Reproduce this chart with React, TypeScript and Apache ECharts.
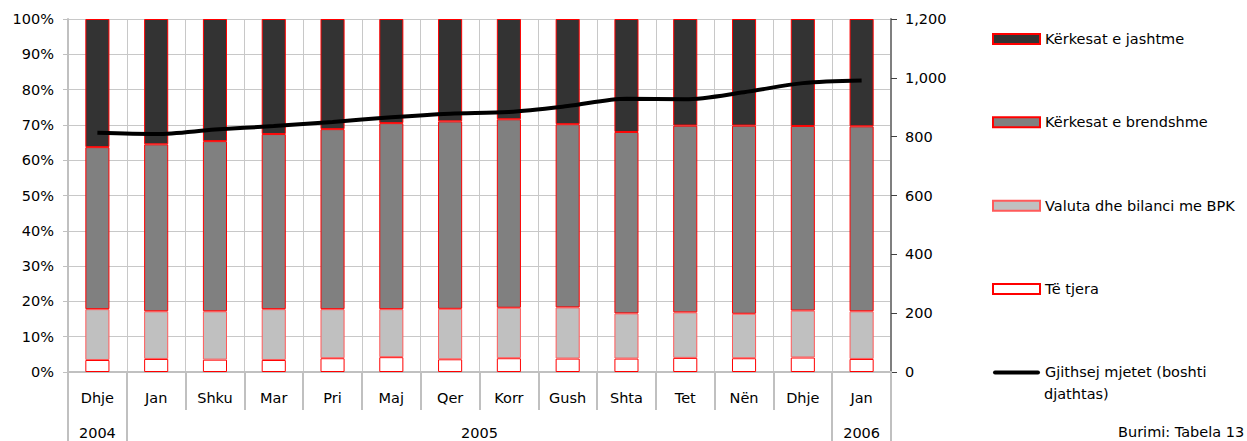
import React, { useEffect, useRef } from "react";
import * as echarts from "echarts";

const months = ["Dhje", "Jan", "Shku", "Mar", "Pri", "Maj", "Qer", "Korr", "Gush", "Shta", "Tet", "Nën", "Dhje", "Jan"];
const yearLabels = ["2004", "2005", "2006"];
const yearLabelPos = [0.5, 7, 13.5];
const yearBoundaries = [0, 1, 13, 14];

const teTjera = [3.4, 3.7, 3.5, 3.4, 3.9, 4.2, 3.6, 3.9, 3.8, 3.8, 4.0, 3.9, 4.1, 3.7];
const valuta = [14.4, 13.5, 13.7, 14.4, 13.9, 13.6, 14.3, 14.3, 14.5, 12.8, 12.9, 12.6, 13.3, 13.5];
const brendshme = [45.9, 47.3, 48.2, 49.6, 51.0, 52.7, 53.1, 53.4, 51.9, 51.4, 52.9, 53.3, 52.3, 52.4];
const jashtme = [36.3, 35.5, 34.6, 32.6, 31.2, 29.5, 29.0, 28.4, 29.8, 32.0, 30.2, 30.2, 30.3, 30.4];
const gjithsej = [813, 809, 824, 836, 850, 866, 878, 884, 904, 929, 927, 951, 982, 991];

const lineName = "Gjithsej mjetet (boshti djathtas)";
const lineLegendLines = ["Gjithsej mjetet (boshti", "djathtas)"];
const sourceText = "Burimi: Tabela 13";

const FONT = "'DejaVu Sans', Verdana, sans-serif";
const FS = 14.5;

export default function App() {
  const ref = useRef<HTMLDivElement>(null);
  useEffect(() => {
    if (!ref.current) return;
    const chart = echarts.init(ref.current, undefined, { renderer: "svg" });
    const barBase = { type: "bar", stack: "a", barWidth: "41%", xAxisIndex: 0, yAxisIndex: 0 };
    chart.setOption({
      animation: false,
      backgroundColor: "#ffffff",
      textStyle: { fontFamily: FONT, fontSize: FS, color: "#000" },
      grid: { left: 68, right: 356, top: 19, bottom: 69, containLabel: false },
      legend: {
        orient: "vertical",
        left: 992,
        top: 30.5,
        padding: 0,
        itemWidth: 47,
        itemHeight: 10,
        itemGap: 66.35,
        textStyle: { fontFamily: FONT, fontSize: FS, color: "#000", lineHeight: 17 },
        formatter: (name: string) => (name === lineName ? lineLegendLines[0] : name),
        data: [
          { name: "Kërkesat e jashtme", icon: "rect" },
          { name: "Kërkesat e brendshme", icon: "rect" },
          { name: "Valuta dhe bilanci me BPK", icon: "rect" },
          { name: "Të tjera", icon: "rect" },
          {
            name: lineName,
            icon: "path://M0,0 L0,0 M2,3 L45,3 A2,2 0 0 1 45,7 L2,7 A2,2 0 0 1 2,3 Z M47,10 L47,10",
            itemStyle: { color: "#000000", borderWidth: 0 },
          },
        ],
      },
      xAxis: [
        {
          type: "category",
          data: months,
          boundaryGap: true,
          axisLine: { show: true, lineStyle: { color: "#c0c0c0", width: 2 } },
          axisTick: { show: true, interval: 0, length: 38, lineStyle: { color: "#c0c0c0", width: 2 } },
          axisLabel: { interval: 0, margin: 18, fontFamily: FONT, fontSize: FS, color: "#000" },
          splitLine: { show: true, interval: 0, lineStyle: { color: "#c8c8c8", width: 1 } },
        },
        {
          type: "value",
          min: 0,
          max: 14,
          position: "bottom",
          axisLine: { show: false },
          splitLine: { show: false },
          axisTick: { show: true, customValues: yearBoundaries, length: 69, lineStyle: { color: "#c0c0c0", width: 2 } },
          axisLabel: {
            show: true,
            customValues: yearLabelPos,
            margin: 53,
            fontFamily: FONT,
            fontSize: FS,
            color: "#000",
            formatter: (v: number) => yearLabels[yearLabelPos.indexOf(v)] ?? "",
          },
        },
      ],
      yAxis: [
        {
          type: "value",
          min: 0,
          max: 100,
          interval: 10,
          axisLine: { show: true, lineStyle: { color: "#c0c0c0", width: 2 } },
          axisTick: { show: true, length: 5, lineStyle: { color: "#c0c0c0" } },
          axisLabel: { formatter: "{value}%", margin: 14, fontFamily: FONT, fontSize: FS, color: "#000" },
          splitLine: { show: true, lineStyle: { color: "#c8c8c8", width: 1 } },
        },
        {
          type: "value",
          min: 0,
          max: 1200,
          interval: 200,
          position: "right",
          axisLine: { show: true, lineStyle: { color: "#7f7f7f", width: 2 } },
          axisTick: { show: true, length: 6, lineStyle: { color: "#404040" } },
          axisLabel: {
            margin: 14,
            fontFamily: FONT,
            fontSize: FS,
            color: "#000",
            formatter: (v: number) => v.toLocaleString("en-US"),
          },
          splitLine: { show: false },
        },
      ],
      series: [
        { ...barBase, name: "Të tjera", data: teTjera, itemStyle: { color: "#ffffff", borderColor: "#ff0000", borderWidth: 1 } },
        { ...barBase, name: "Valuta dhe bilanci me BPK", data: valuta, itemStyle: { color: "#c0c0c0", borderColor: "#ff5a5a", borderWidth: 1 } },
        { ...barBase, name: "Kërkesat e brendshme", data: brendshme, itemStyle: { color: "#808080", borderColor: "#ff0000", borderWidth: 1 } },
        { ...barBase, name: "Kërkesat e jashtme", data: jashtme, itemStyle: { color: "#333333", borderColor: "#ff0000", borderWidth: 1 } },
        {
          type: "line",
          name: lineName,
          data: gjithsej,
          xAxisIndex: 0,
          yAxisIndex: 1,
          symbol: "none",
          smooth: 0.3,
          lineStyle: { color: "#000000", width: 4 },
          itemStyle: { color: "#000000" },
          z: 5,
        },
      ],
      graphic: [
        {
          type: "text",
          left: 1044,
          top: 386,
          style: { text: lineLegendLines[1], fontFamily: FONT, fontSize: FS, fill: "#000" },
        },
        {
          type: "text",
          left: 1118,
          top: 424,
          style: { text: sourceText, fontFamily: FONT, fontSize: FS, fill: "#000" },
        },
      ],
    });
    return () => chart.dispose();
  }, []);
  return <div ref={ref} style={{ position: "fixed", left: 0, top: 0, width: 1247, height: 441 }} />;
}
